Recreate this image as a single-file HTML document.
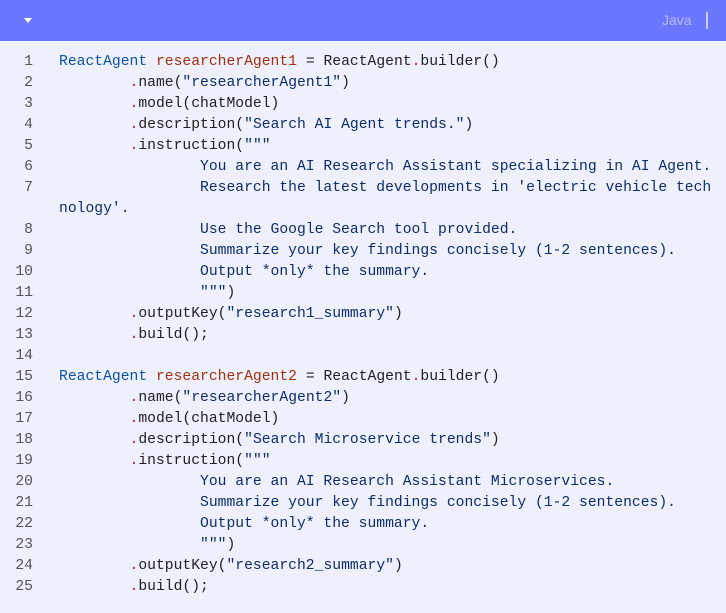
<!DOCTYPE html>
<html><head><meta charset="utf-8"><style>
body{margin:0;width:726px;height:613px;background:#fff;overflow:hidden}
.box{position:absolute;left:0;top:0;width:726px;height:613px;background:#eef0fc}
.hd{position:absolute;left:0;top:0;width:726px;height:41px;background:#6b77fd}
.tri{position:absolute;left:24px;top:18px;width:0;height:0;border-left:4px solid transparent;border-right:4px solid transparent;border-top:5px solid #fff}
.lang{position:absolute;left:662px;top:12px;font:14px "Liberation Sans",sans-serif;color:#b6bdfc}
.bar{position:absolute;left:706px;top:12px;width:2px;height:17px;background:#c9cefe}
pre{margin:0;position:absolute;top:52px;font:14.7px/21px "Liberation Mono",monospace;color:#222}
.ln{left:0;width:33px;text-align:right;color:#555}
.code{left:59px}
.k{color:#0d52aa}.v{color:#a3300e}.s{color:#0f2d6b}.d{color:#d0103a}
</style></head><body><div class="box">
<div class="hd"><div class="tri"></div><div class="lang">Java</div><div class="bar"></div></div>
<pre class="ln">1
2
3
4
5
6
7

8
9
10
11
12
13
14
15
16
17
18
19
20
21
22
23
24
25</pre>
<pre class="code"><span class="k">ReactAgent</span> <span class="v">researcherAgent1</span> = ReactAgent<span class="d">.</span>builder()
        <span class="d">.</span>name(<span class="s">"researcherAgent1"</span>)
        <span class="d">.</span>model(chatModel)
        <span class="d">.</span>description(<span class="s">"Search AI Agent trends."</span>)
        <span class="d">.</span>instruction(<span class="s">"""</span>
<span class="s">                You are an AI Research Assistant specializing in AI Agent.
                Research the latest developments in 'electric vehicle tech
nology'.
                Use the Google Search tool provided.
                Summarize your key findings concisely (1-2 sentences).
                Output *only* the summary.
                """</span>)
        <span class="d">.</span>outputKey(<span class="s">"research1_summary"</span>)
        <span class="d">.</span>build();

<span class="k">ReactAgent</span> <span class="v">researcherAgent2</span> = ReactAgent<span class="d">.</span>builder()
        <span class="d">.</span>name(<span class="s">"researcherAgent2"</span>)
        <span class="d">.</span>model(chatModel)
        <span class="d">.</span>description(<span class="s">"Search Microservice trends"</span>)
        <span class="d">.</span>instruction(<span class="s">"""</span>
<span class="s">                You are an AI Research Assistant Microservices.
                Summarize your key findings concisely (1-2 sentences).
                Output *only* the summary.
                """</span>)
        <span class="d">.</span>outputKey(<span class="s">"research2_summary"</span>)
        <span class="d">.</span>build();</pre>
</div></body></html>
